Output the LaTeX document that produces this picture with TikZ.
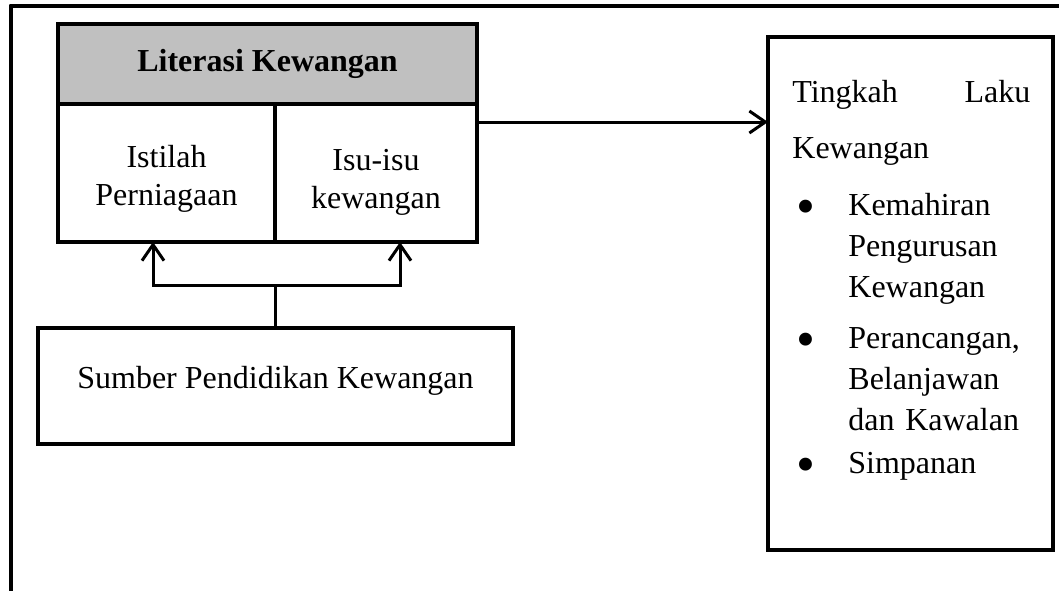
\documentclass[tikz,border=0pt]{standalone}
\usepackage{fontspec}
\setmainfont{Liberation Serif}
\usetikzlibrary{arrows.meta,positioning}
\definecolor{headgray}{HTML}{C0C0C0}
\newcommand{\bulitem}{\hspace*{7pt}\makebox[0pt]{\raisebox{-4.5pt}{\fontsize{27}{0}\selectfont\textbullet}}\hspace*{21pt}}
\newcommand{\bulcont}{\hspace*{28pt}}
\begin{document}
\begin{tikzpicture}[x=0.5pt, y=-0.5pt,
box/.style={draw, line width=2pt, inner sep=0pt, outer sep=0pt,
  font=\fontsize{16}{19}\selectfont},
cell/.style={box, line width=1.75pt, align=center, minimum height=69pt},
head/.style={cell, fill=headgray, minimum width=209.5pt, minimum height=40pt},
arr/.style={line width=1.5pt, -{Straight Barb[length=8pt,width=11pt]}},
frame/.style={line width=2pt, line join=round}]
\useasboundingbox (0,0) rectangle (1059,591);
\draw[frame] (1059,5.5) -- (10.5,5.5) -- (10.5,591);
%
\node[head, anchor=north west] (literasi) at (58,24) {\textbf{Literasi Kewangan}};
\node[cell, minimum width=108.5pt, below right=0pt and 0pt of literasi.south west] (istilah) {\rule{0pt}{17pt}Istilah\\Perniagaan};
\node[cell, minimum width=101pt, right=0pt of istilah] (isu) {\rule{0pt}{20pt}Isu-isu\\kewangan};
\node[box, text height=30pt, text depth=28pt, minimum width=237.5pt, anchor=north west] (sumber) at (38,328) {Sumber Pendidikan Kewangan};
\node[box, minimum width=142.5pt, minimum height=256.5pt, anchor=north west] (laku) at (768,37) {};
\node[anchor=north west, inner sep=0pt, text width=119pt, align=left,
  font=\fontsize{16}{20.5}\selectfont] (lakutext) at (792,80)
  {Tingkah\hfill Laku\\[7.5pt]
   Kewangan\\[8pt]
   \bulitem Kemahiran\\
   \bulcont Pengurusan\\
   \bulcont Kewangan\\[5pt]
   \bulitem Perancangan,\\
   \bulcont Belanjawan\\
   \bulcont dan Kawalan\\[1pt]
   \bulitem Simpanan};
%
\coordinate[above=21.5pt of sumber.north] (split);
\draw[line width=1.5pt] (sumber.north) -- (split);
\draw[arr] (split) -| ([xshift=-6.75pt]istilah.south);
\draw[arr] (split) -| ([xshift=12pt]isu.south);
\draw[arr] ([yshift=-9pt]isu.north east) coordinate (out) -- (out -| laku.west);
\end{tikzpicture}
\end{document}
